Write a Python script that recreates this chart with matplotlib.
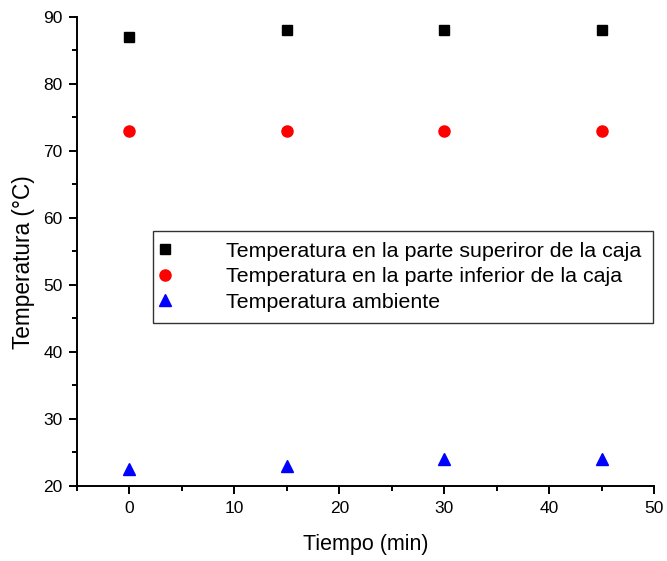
import matplotlib
matplotlib.use("Agg")
import matplotlib.pyplot as plt
from matplotlib.ticker import MultipleLocator

plt.rcParams['font.family'] = ['Liberation Sans', 'DejaVu Sans']

tiempo = [0, 15, 30, 45]
temp_superior = [87, 88, 88, 88]
temp_inferior = [73, 73, 73, 73]
temp_ambiente = [22.5, 23, 24, 24]

labels = [
    "Temperatura en la parte superiror de la caja",
    "Temperatura en la parte inferior de la caja",
    "Temperatura ambiente",
]

fig = plt.figure(figsize=(6.67, 5.61), dpi=100)
ax = fig.add_axes([0.1154, 0.1337, 0.8651, 0.836])

ax.plot(tiempo, temp_superior, linestyle='none', marker='s', color='black', markersize=7, label=labels[0])
ax.plot(tiempo, temp_inferior, linestyle='none', marker='o', color='red', markersize=8, label=labels[1])
ax.plot(tiempo, temp_ambiente, linestyle='none', marker='^', color='blue', markersize=9, label=labels[2])

ax.set_xlim(-5, 50)
ax.set_ylim(20, 90)
ax.xaxis.set_major_locator(MultipleLocator(10))
ax.xaxis.set_minor_locator(MultipleLocator(5))
ax.yaxis.set_major_locator(MultipleLocator(10))
ax.yaxis.set_minor_locator(MultipleLocator(5))

for side in ('top', 'right'):
    ax.spines[side].set_visible(False)
for side in ('left', 'bottom'):
    ax.spines[side].set_linewidth(1.4)

ax.tick_params(which='major', direction='out', length=5.5, width=1.4, labelsize=12.5, pad=5)
ax.tick_params(which='minor', direction='out', length=3.5, width=1.4)

ax.set_xlabel("Tiempo (min)", fontsize=15.5, labelpad=13)
ax.set_ylabel("Temperatura (°C)", fontsize=16.3)
ax.yaxis.set_label_coords(-0.073, 0.478)

leg = ax.legend(loc='upper left', bbox_to_anchor=(0.132, 0.544), fontsize=15.4,
                frameon=True, fancybox=False, edgecolor='black',
                borderpad=0.52, handlelength=0.1, handletextpad=2.8,
                borderaxespad=0, labelspacing=0.3, markerscale=1.0)
leg.get_frame().set_linewidth(1.0)

fig.savefig("out.png", dpi=100)
